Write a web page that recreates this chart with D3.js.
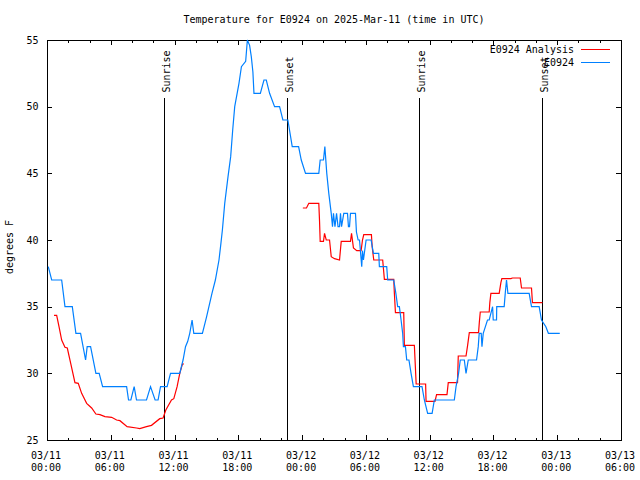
<!DOCTYPE html>
<html><head><meta charset="utf-8">
<script src="https://cdn.jsdelivr.net/npm/d3@7"></script>
<style>
body{margin:0;background:#fff}
svg text{font-family:"DejaVu Sans Mono","Liberation Mono",monospace;font-size:10px;fill:#000}
</style>
</head><body>
<svg id="chart" width="640" height="480"></svg>
<script>
// ---------------- data ----------------
const chartTitle = "Temperature for E0924 on 2025-Mar-11 (time in UTC)";
const yLabel = "degrees F";
const seriesNames = ["E0924 Analysis", "E0924"];
const seriesColors = ["#ff0000", "#0080ff"];

const xTickHours = [0, 6, 12, 18, 24, 30, 36, 42, 48, 54];
const xTickDates = ["03/11","03/11","03/11","03/11","03/12","03/12","03/12","03/12","03/13","03/13"];
const xTickTimes = ["00:00","06:00","12:00","18:00","00:00","06:00","12:00","18:00","00:00","06:00"];
const xMinorHours = [2,4,8,10,14,16,20,22,26,28,32,34,38,40,44,46,50,52];
const yTicks = [25, 30, 35, 40, 45, 50, 55];

const sunLabels = ["Sunrise", "Sunset", "Sunrise", "Sunset"];
const sunHours = [11.02, 22.60, 34.96, 46.61];

// observed station temperature (hours since 03/11 00:00 UTC)
const obsHours = [0.12,0.44,1.38,1.69,2.38,2.72,3.16,3.63,3.78,4.10,4.60,4.91,5.23,7.49,7.67,7.89,8.20,8.42,9.36,9.74,
  10.17,10.45,10.68,11.30,11.62,12.49,12.80,13.03,13.24,13.43,13.65,13.81,14.62,15.00,15.52,15.84,16.18,16.34,16.50,16.72,
  17.03,17.28,17.47,17.66,18.06,18.29,18.69,18.85,19.06,19.22,19.37,19.47,20.07,20.41,20.63,20.94,21.41,21.88,22.19,22.66,
  23.07,23.67,23.92,24.32,25.57,25.70,26.01,26.14,26.32,26.51,26.74,26.86,26.95,27.09,27.24,27.38,27.52,27.61,27.71,27.92,
  28.27,28.36,28.46,28.55,29.02,29.11,29.27,29.40,29.61,29.68,29.77,30.02,30.49,30.71,31.21,31.27,31.96,32.05,32.62,32.82,
  32.99,33.15,33.31,33.46,33.53,33.72,33.84,34.05,34.25,34.47,35.28,35.50,35.81,36.23,36.44,38.32,38.48,38.72,38.88,39.26,
  39.42,39.63,40.41,40.57,40.66,40.85,40.92,41.04,41.44,41.60,41.92,41.98,42.29,42.31,43.01,43.11,43.23,43.36,45.36,45.58,
  46.30,46.52,46.93,47.17,48.24];
const obsTemps = [38,37,37,35,35,33,33,31,32,32,30,30,29,29,28,28,29,28,28,29,
  28,28,29,29,30,30,31,32,32.4,33,34,33,33,34.2,36,37,38.5,39.6,40.75,42.75,
  44.75,46.25,48.25,50,51.75,53,53.4,55,54.6,53.75,52.6,51,51,52,52,51,50,50,49,49,
  47,47,46,45,45,46,46,47,45,43.5,42,41,42,41,42,41,41,42,41,42,
  42,41,41,42,42,40.6,40,40,38,39.2,38.5,40,40,39,39,38,38,37,37,36,
  35,35,34,33,32,32,31,31,30,29,29,28,27,27,28,28,29,30,31,31,
  30,31,31,32,33,33,32,33,34,34,35,34,34,35,35,36,37,36,36,35,
  35,34,33.5,33,33];

// analysis temperature (null = no analysis available)
const anaHours = [0.66,0.91,1.13,1.38,1.69,1.91,2.23,2.63,2.94,3.26,3.73,4.20,4.60,4.98,5.45,6.08,6.55,6.86,7.54,8.42,
  8.73,9.36,9.83,10.61,10.92,11.18,11.71,11.93,12.24,12.49,12.74,12.89,
  18.0,
  24.07,24.41,24.63,25.57,25.64,25.70,26.01,26.11,26.27,26.58,26.74,27.05,27.52,27.61,27.68,28.55,28.65,28.83,29.14,29.55,
  29.68,29.80,30.52,30.59,30.74,31.58,31.74,32.62,32.68,32.78,33.56,33.62,34.56,34.73,35.62,35.66,36.50,36.65,37.63,37.75,
  38.62,38.69,39.42,39.57,39.73,40.60,40.67,40.76,41.60,41.66,41.76,42.54,42.70,42.79,43.64,43.79,44.52,44.64,45.58,45.67,
  46.61];
const anaTemps = [34.35,34.35,33.5,32.5,31.95,31.9,30.75,29.3,29.25,28.5,27.75,27.4,26.95,26.9,26.75,26.7,26.5,26.45,26,25.9,
  25.85,26,26.1,26.6,26.65,27.25,28,28.1,29,30,30.7,30.7,
  null,
  42.4,42.4,42.75,42.75,41.4,39.9,39.9,40.5,40,40,38.75,38.6,38.5,39.3,39.9,39.9,40.5,39.4,39.2,39.2,
  40,40.4,40.4,39.5,38.5,38.5,37.05,37.05,36,34.55,34.55,32.1,32.1,29.2,29.2,27.9,27.9,28.4,28.4,29.3,
  29.3,31.3,31.3,32.1,33.05,33.05,33.8,34.6,34.6,35.3,36,36,36.8,37.1,37.1,37.15,37.15,36.4,36.4,35.3,
  35.3];

// ---------------- drawing ----------------
const svg = d3.select("#chart");
const L = 47, R = 621, T = 40, B = 440;
const x = d3.scaleLinear().domain([0, 54]).range([L, R]);
const y = d3.scaleLinear().domain([25, 55]).range([B, T]);

// title
svg.append("text").attr("x", (L + R) / 2).attr("y", 23.3)
  .attr("text-anchor", "middle").text(chartTitle);

// y label
svg.append("text").attr("transform", "translate(13,247) rotate(-90)")
  .attr("text-anchor", "middle").text(yLabel);

// axes (ticks inward on all four sides)
function styleAxis(g) {
  g.select(".domain").remove();
  g.selectAll("line").attr("stroke", "#000").attr("shape-rendering", "crispEdges");
  g.selectAll("text").remove();
}
svg.append("g").attr("transform", `translate(0,${B})`)
  .call(d3.axisBottom(x).tickValues(xTickHours).tickSize(-5).tickSizeOuter(0)).call(styleAxis);
svg.append("g").attr("transform", `translate(0,${B})`)
  .call(d3.axisBottom(x).tickValues(xMinorHours).tickSize(-2.5).tickSizeOuter(0)).call(styleAxis);
svg.append("g").attr("transform", `translate(0,${T})`)
  .call(d3.axisTop(x).tickValues(xTickHours).tickSize(-5).tickSizeOuter(0)).call(styleAxis);
svg.append("g").attr("transform", `translate(0,${T})`)
  .call(d3.axisTop(x).tickValues(xMinorHours).tickSize(-2.5).tickSizeOuter(0)).call(styleAxis);
svg.append("g").attr("transform", `translate(${L},0)`)
  .call(d3.axisLeft(y).tickValues(yTicks).tickSize(-5).tickSizeOuter(0)).call(styleAxis);
svg.append("g").attr("transform", `translate(${R},0)`)
  .call(d3.axisRight(y).tickValues(yTicks).tickSize(-5).tickSizeOuter(0)).call(styleAxis);

// tick labels
const yl = svg.append("g");
yTicks.forEach(v => {
  yl.append("text").attr("x", 38.5).attr("y", y(v) + 3.5)
    .attr("text-anchor", "end").text(v);
});
const xl = svg.append("g");
xTickHours.forEach((h, i) => {
  xl.append("text").attr("x", x(h) - 1).attr("y", 458.5).attr("text-anchor", "middle").text(xTickDates[i]);
  xl.append("text").attr("x", x(h) - 1).attr("y", 471).attr("text-anchor", "middle").text(xTickTimes[i]);
});

// border
svg.append("rect").attr("x", L + 0.5).attr("y", T + 0.5)
  .attr("width", R - L).attr("height", B - T)
  .attr("fill", "none").attr("stroke", "#000").attr("shape-rendering", "crispEdges");

// sunrise / sunset markers
sunHours.forEach((h, i) => {
  const sx = Math.round(x(h)) + 0.5;
  svg.append("line").attr("x1", sx).attr("x2", sx).attr("y1", 98).attr("y2", B)
    .attr("stroke", "#000").attr("shape-rendering", "crispEdges");
  svg.append("text").attr("transform", `translate(${sx + 5.5},92.5) rotate(-90)`)
    .attr("text-anchor", "start").text(sunLabels[i]);
});

// series
const line = d3.line().defined(d => d[1] != null).x(d => x(d[0])).y(d => y(d[1]));
const anaData = anaHours.map((h, i) => [h, anaTemps[i]]);
const obsData = obsHours.map((h, i) => [h, obsTemps[i]]);
svg.append("path").datum(anaData).attr("d", line)
  .attr("fill", "none").attr("stroke", seriesColors[0]).attr("stroke-width", 1.2);
svg.append("path").datum(obsData).attr("d", line)
  .attr("fill", "none").attr("stroke", seriesColors[1]).attr("stroke-width", 1.2);

// legend
const legendY = [49.5, 62.5];
seriesNames.forEach((n, i) => {
  svg.append("text").attr("x", 574).attr("y", legendY[i] + 3.5)
    .attr("text-anchor", "end").text(n);
  svg.append("line").attr("x1", 581).attr("x2", 610)
    .attr("y1", legendY[i]).attr("y2", legendY[i])
    .attr("stroke", seriesColors[i]).attr("shape-rendering", "crispEdges");
});
</script>
</body></html>
